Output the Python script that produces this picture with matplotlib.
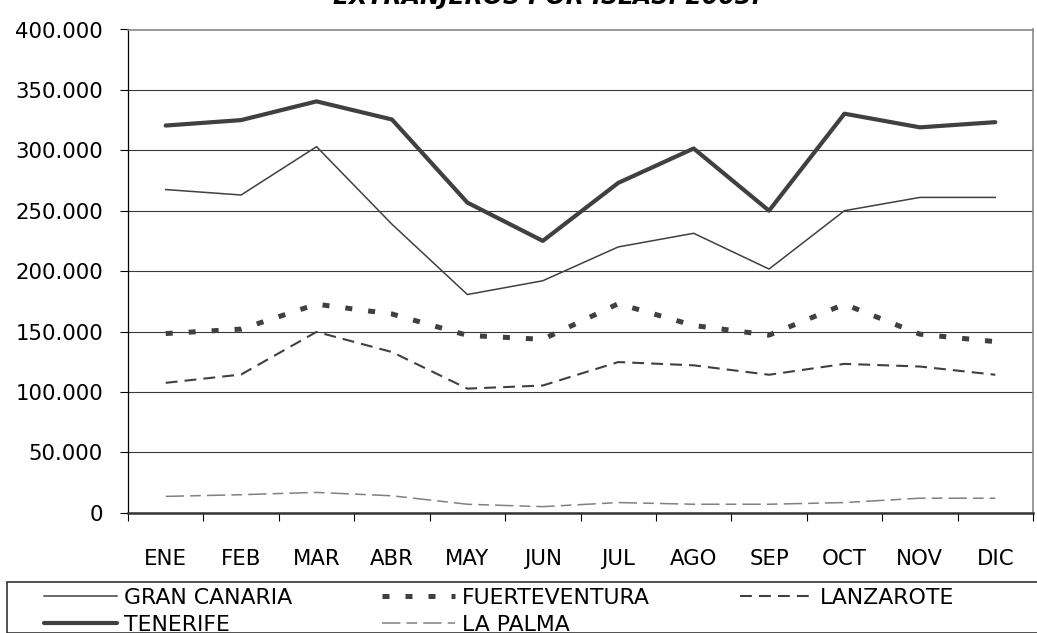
import matplotlib
matplotlib.use("Agg")
import matplotlib.pyplot as plt
from matplotlib.ticker import FuncFormatter, FixedLocator
from matplotlib.patches import Rectangle

months = ["ENE", "FEB", "MAR", "ABR", "MAY", "JUN", "JUL", "AGO", "SEP", "OCT", "NOV", "DIC"]
gran_canaria = [267500, 263000, 303000, 238800, 180600, 192000, 220000, 231300, 201700, 250000, 261000, 261000]
tenerife = [320500, 325000, 340500, 325500, 256700, 225000, 273000, 301500, 250000, 330300, 319000, 323300]
fuerteventura = [148300, 152000, 172600, 164500, 146800, 143500, 173000, 155000, 147000, 172600, 147800, 141600]
lanzarote = [107500, 114400, 149700, 133000, 102700, 105300, 124700, 122000, 114200, 123200, 121000, 114200]
la_palma = [13500, 14900, 16800, 14000, 7000, 5000, 8400, 7000, 7000, 8400, 12000, 12000]
title = "EXTRANJEROS POR ISLAS. 2003."

W, H = 1037, 633
plt.rcParams['font.family'] = ['DejaVu Sans']
fig = plt.figure(figsize=(W / 100, H / 100), dpi=100)

left, right, top, bottom = 128, 1033, 29.5, 512.7
ax = fig.add_axes([left / W, 1 - bottom / H, (right - left) / W, (bottom - top) / H])

x = list(range(len(months)))
line_col = "#404040"
h_gc, = ax.plot(x, gran_canaria, color=line_col, lw=1.1, label="GRAN CANARIA", zorder=3)
h_te, = ax.plot(x, tenerife, color=line_col, lw=3.0, label="TENERIFE", zorder=3, solid_capstyle='round')
h_fu, = ax.plot(x, fuerteventura, color=line_col, lw=3.6, label="FUERTEVENTURA", zorder=3,
                dashes=(1.4, 3.2), dash_capstyle='butt')
h_la, = ax.plot(x, lanzarote, color=line_col, lw=1.5, label="LANZAROTE", zorder=3,
                dashes=(5.7, 3.4))
h_lp, = ax.plot(x, la_palma, color="#808080", lw=1.1, label="LA PALMA", zorder=3,
                dashes=(12, 4, 7, 4))

ax.set_xlim(-0.5, len(months) - 0.5)
ax.set_ylim(0, 400000)
ax.yaxis.set_major_locator(FixedLocator([i * 50000 for i in range(9)]))
ax.yaxis.set_major_formatter(FuncFormatter(lambda v, p: "0" if v == 0 else f"{v:,.0f}".replace(",", ".")))
ax.grid(axis='y', color="#3a3a3a", lw=0.8, zorder=1)

ax.set_xticks([i + 0.5 for i in range(-1, len(months))])
ax.set_xticklabels([])
ax.set_xticks(x, minor=True)
ax.set_xticklabels(months, minor=True)
ax.tick_params(axis='x', which='major', length=6, width=0.8, color='black', direction='out')
ax.tick_params(axis='x', which='minor', length=0, pad=26, labelsize=15.3)
ax.tick_params(axis='y', which='major', length=6, width=0.8, color='black', direction='out', pad=12, labelsize=15.3)

ax.spines['left'].set_color('black')
ax.spines['left'].set_linewidth(0.9)
ax.spines['bottom'].set_color('#333333')
ax.spines['bottom'].set_linewidth(1.8)
ax.spines['right'].set_color('#888888')
ax.spines['right'].set_linewidth(1.2)
ax.spines['top'].set_color('#888888')
ax.spines['top'].set_linewidth(1.2)

fig.text(547 / W, 1 - 4 / H, title, ha='center', va='baseline', fontsize=17,
         fontweight='bold', fontstyle='italic')

# legend frame
fig.add_artist(Rectangle((6.6 / W, 0), 1.1, 1 - 582 / H, transform=fig.transFigure,
                         fill=False, edgecolor='#333333', lw=1.2))
leg = fig.legend([h_gc, h_te, h_fu, h_lp, h_la],
                 ["GRAN CANARIA", "TENERIFE", "FUERTEVENTURA", "LA PALMA", "LANZAROTE"],
                 ncol=3, loc='upper left', bbox_to_anchor=(44 / W, 1 - 588 / H),
                 frameon=False, fontsize=15.8, handlelength=3.33, handletextpad=0.32,
                 columnspacing=4.1, labelspacing=0.3, borderpad=0, borderaxespad=0)

fig.savefig("out.png", dpi=100)
